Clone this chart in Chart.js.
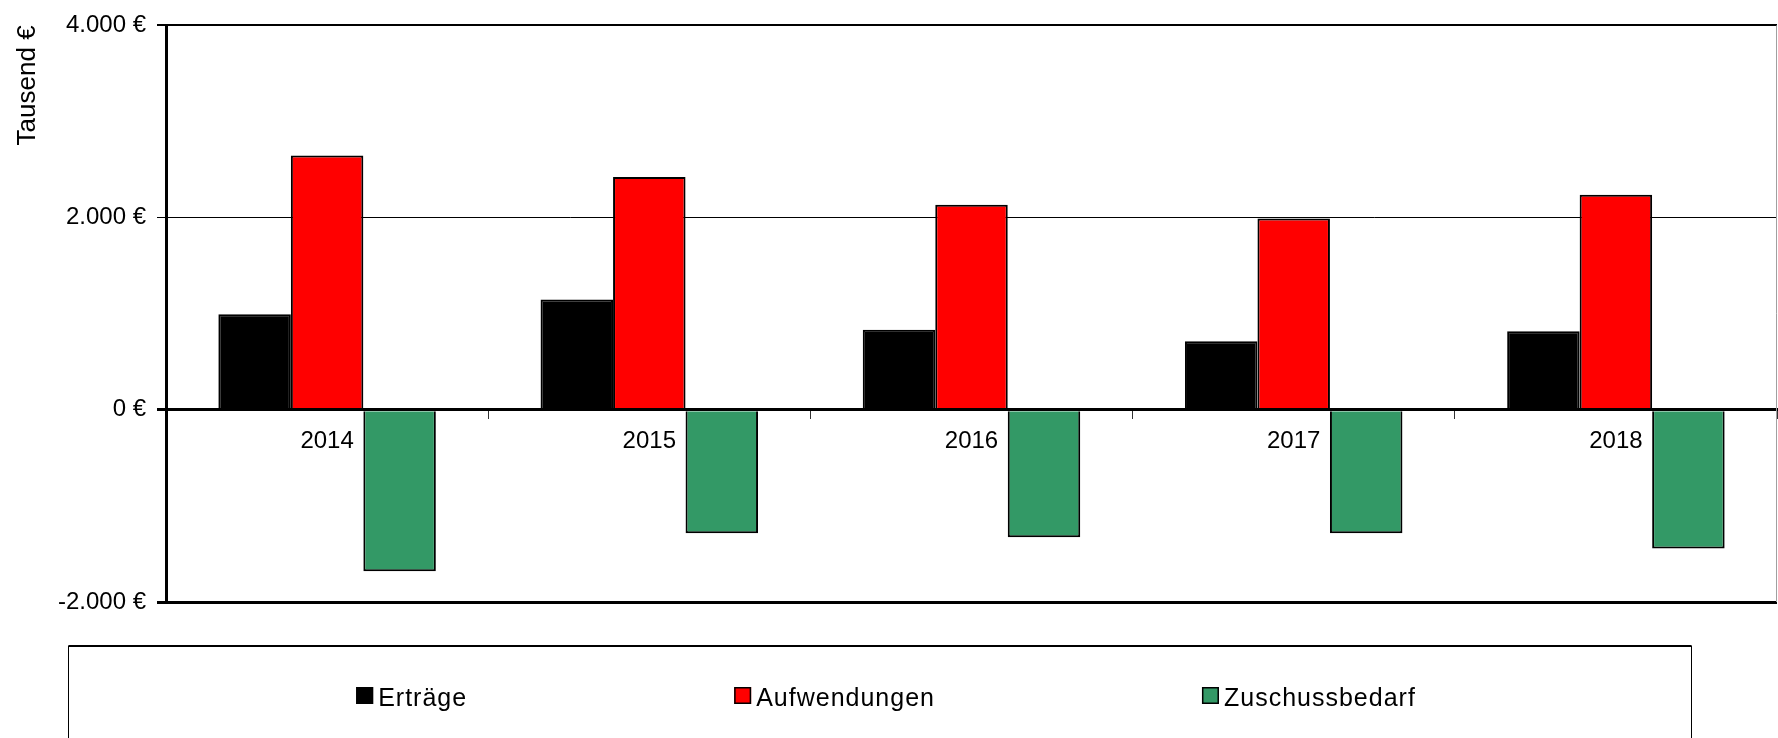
<!DOCTYPE html>
<html>
<head>
<meta charset="utf-8">
<script src="https://cdn.jsdelivr.net/npm/chart.js@4.4.1/dist/chart.umd.min.js"></script>
<style>
    html, body { margin: 0; padding: 0; background: #fff; }
    #wrap { width: 1778px; height: 738px; position: relative; }
</style>
</head>
<body>
<div id="wrap"><canvas id="finanzChart"></canvas></div>
<script>
const years = ['2014', '2015', '2016', '2017', '2018'];
const ertraege = [995, 1149, 834, 714, 817];
const aufwendungen = [2645, 2423, 2135, 1991, 2238];
const zuschussbedarf = [-1680, -1284, -1325, -1284, -1442];
const yTicks = [-2000, 0, 2000, 4000];

const fontFamily = '"Liberation Sans", Arial, sans-serif';

function euro(v) {
    const s = Math.abs(v).toString().replace(/\B(?=(\d{3})+(?!\d))/g, '.');
    return (v < 0 ? '-' : '') + s + '\u00a0€';
}

// legend box + right frame line, drawn like the Excel original
const excelFrame = {
    id: 'excelFrame',
    afterDraw(chart) {
        const { ctx, chartArea } = chart;
        ctx.save();

        ctx.strokeStyle = '#a0a0a0';
        ctx.lineWidth = 1;
        ctx.beginPath();
        ctx.moveTo(chartArea.right - 0.5, chartArea.top);
        ctx.lineTo(chartArea.right - 0.5, chartArea.bottom);
        ctx.stroke();

        // legend frame
        const boxLeft = 68.5, boxRight = 1691.5, boxTop = 646;
        ctx.strokeStyle = '#000';
        ctx.lineWidth = 1;
        ctx.beginPath();
        ctx.moveTo(boxLeft, 760);
        ctx.lineTo(boxLeft, boxTop);
        ctx.lineTo(boxRight, boxTop);
        ctx.lineTo(boxRight, 760);
        ctx.stroke();
        ctx.lineWidth = 2;
        ctx.beginPath();
        ctx.moveTo(boxLeft, boxTop);
        ctx.lineTo(boxRight, boxTop);
        ctx.stroke();

        // legend items
        ctx.font = '25px ' + fontFamily;
        ctx.letterSpacing = '1px';
        ctx.textBaseline = 'alphabetic';
        ctx.textAlign = 'left';
        const sw = 17, gap = 5, itemGap = 267;
        const items = chart.data.datasets.map(ds => ({
            label: ds.label,
            color: ds.backgroundColor,
            w: sw + gap + ctx.measureText(ds.label).width
        }));
        const total = items.reduce((a, it) => a + it.w, 0) + itemGap * (items.length - 1);
        let x = 886 - total / 2;
        const swTop = 687, baseline = 706;
        items.forEach(it => {
            ctx.fillStyle = it.color;
            ctx.fillRect(x, swTop, sw, sw);
            ctx.strokeStyle = '#000';
            ctx.lineWidth = 1.5;
            ctx.strokeRect(x + 0.75, swTop + 0.75, sw - 1.5, sw - 1.5);
            ctx.fillStyle = '#000';
            ctx.fillText(it.label, x + sw + gap, baseline);
            x += it.w + itemGap;
        });
        ctx.restore();
    }
};

const chartData = {
    labels: years,
    datasets: [
        {
            label: 'Erträge',
            data: ertraege,
            backgroundColor: '#000000',
            borderColor: '#000000',
            borderWidth: 2
        },
        {
            label: 'Aufwendungen',
            data: aufwendungen,
            backgroundColor: '#ff0000',
            borderColor: '#000000',
            borderWidth: 2
        },
        {
            label: 'Zuschussbedarf',
            data: zuschussbedarf,
            backgroundColor: '#339966',
            borderColor: '#000000',
            borderWidth: 2
        }
    ]
};

new Chart(document.getElementById('finanzChart'), {
    type: 'bar',
    data: chartData,
    plugins: [excelFrame],
    options: {
        responsive: true,
        maintainAspectRatio: false,
        animation: false,
        categoryPercentage: 0.675,
        barPercentage: 1.0,
        layout: {
            padding: { top: 19, right: 1, bottom: 136, left: 0 }
        },
        plugins: {
            legend: { display: false },
            tooltip: { enabled: false }
        },
        scales: {
            x: {
                position: { y: 0 },
                grid: {
                    display: true,
                    drawOnChartArea: false,
                    drawTicks: true,
                    tickLength: 8,
                    color: '#333',
                    lineWidth: 1
                },
                border: { display: true, color: '#000', width: 3, z: 1 },
                ticks: {
                    color: '#000',
                    padding: 9,
                    maxRotation: 0,
                    font: { family: fontFamily, size: 24 }
                }
            },
            y: {
                min: yTicks[0],
                max: yTicks[yTicks.length - 1],
                afterBuildTicks: scale => {
                    scale.ticks = yTicks.map(v => ({ value: v }));
                },
                afterFit: scale => {
                    scale.width = 166;
                },
                grid: {
                    color: '#000',
                    tickColor: '#000',
                    tickLength: 9,
                    lineWidth: ctx => {
                        const v = ctx.tick ? ctx.tick.value : 0;
                        if (v === 2000) return 1;
                        if (v === 4000) return 2;
                        return 3;
                    }
                },
                border: { display: true, color: '#000', width: 3, z: 1 },
                ticks: {
                    color: '#000',
                    padding: 11,
                    font: { family: fontFamily, size: 24 },
                    callback: v => euro(v)
                },
                title: {
                    display: true,
                    text: 'Tausend €',
                    align: 'end',
                    color: '#000',
                    font: { family: fontFamily, size: 26 },
                    padding: { top: 12, bottom: 0 }
                }
            }
        }
    }
});
</script>
</body>
</html>
